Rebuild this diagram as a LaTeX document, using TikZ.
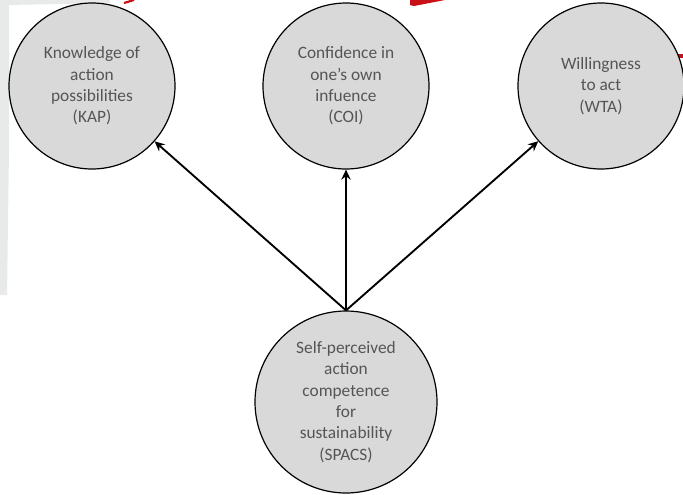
\documentclass[tikz,border=0pt]{standalone}
\usepackage{fontspec}
\setmainfont{Carlito}
\usepackage{tikz}
\usetikzlibrary{arrows.meta}

\definecolor{bubblefill}{RGB}{217,217,217}
\definecolor{labeltext}{RGB}{85,85,85}
\definecolor{slidered}{RGB}{200,16,22}
\definecolor{slidegray}{RGB}{232,233,233}

\tikzset{
  bubble/.style={circle, draw=black, line width=0.9pt, fill=bubblefill, inner sep=0pt,
    minimum size=124.5pt, align=center, text=labeltext, font=\fontsize{13}{16}\selectfont},
  bigbubble/.style={bubble, minimum size=136.5pt},
  arrowline/.style={line width=1.4pt, -{Stealth[length=7.5pt,width=7pt,inset=2.5pt]}}
}

\begin{document}
\begin{tikzpicture}[x=0.75pt,y=0.75pt,yscale=-1,xscale=1]
\useasboundingbox (0,0) rectangle (683,494);

%Shape: slide edge 
\fill[slidegray] (0,0) -- (110,0) -- (110,3) -- (9,5) -- (9,150) -- (7,295) -- (0,295) -- cycle ;
%Shape: red marks 
\draw[slidered, line width=1.6pt] (124,3) -- (134,0) ;
\fill[slidered] (410,0) -- (410,5) -- (414,6) -- (445,0) -- cycle ;
\draw[slidered, line width=3pt] (670,56) -- (683,56) ;

%Shape: Circle [id:kap] 
\node[bubble] (kap) at (92,86) {Knowledge of\\action\\possibilities\\(KAP)};
%Shape: Circle [id:coi] 
\node[bubble] (coi) at (346,86) {Confidence in\\one’s own\\infuence\\(COI)};
%Shape: Circle [id:wta] 
\node[bubble] (wta) at (601,86) {Willingness\\to act\\(WTA)};
%Shape: Circle [id:spacs] 
\node[bigbubble] (spacs) at (346,402) {Self-perceived\\action\\competence\\for\\sustainability\\(SPACS)};

%Straight Lines [id:spacs-kap] 
\draw[arrowline] (spacs.north) -- (kap) ;
%Straight Lines [id:spacs-coi] 
\draw[arrowline] (spacs.north) -- (coi) ;
%Straight Lines [id:spacs-wta] 
\draw[arrowline] (spacs.north) -- (wta) ;
\end{tikzpicture}
\end{document}
